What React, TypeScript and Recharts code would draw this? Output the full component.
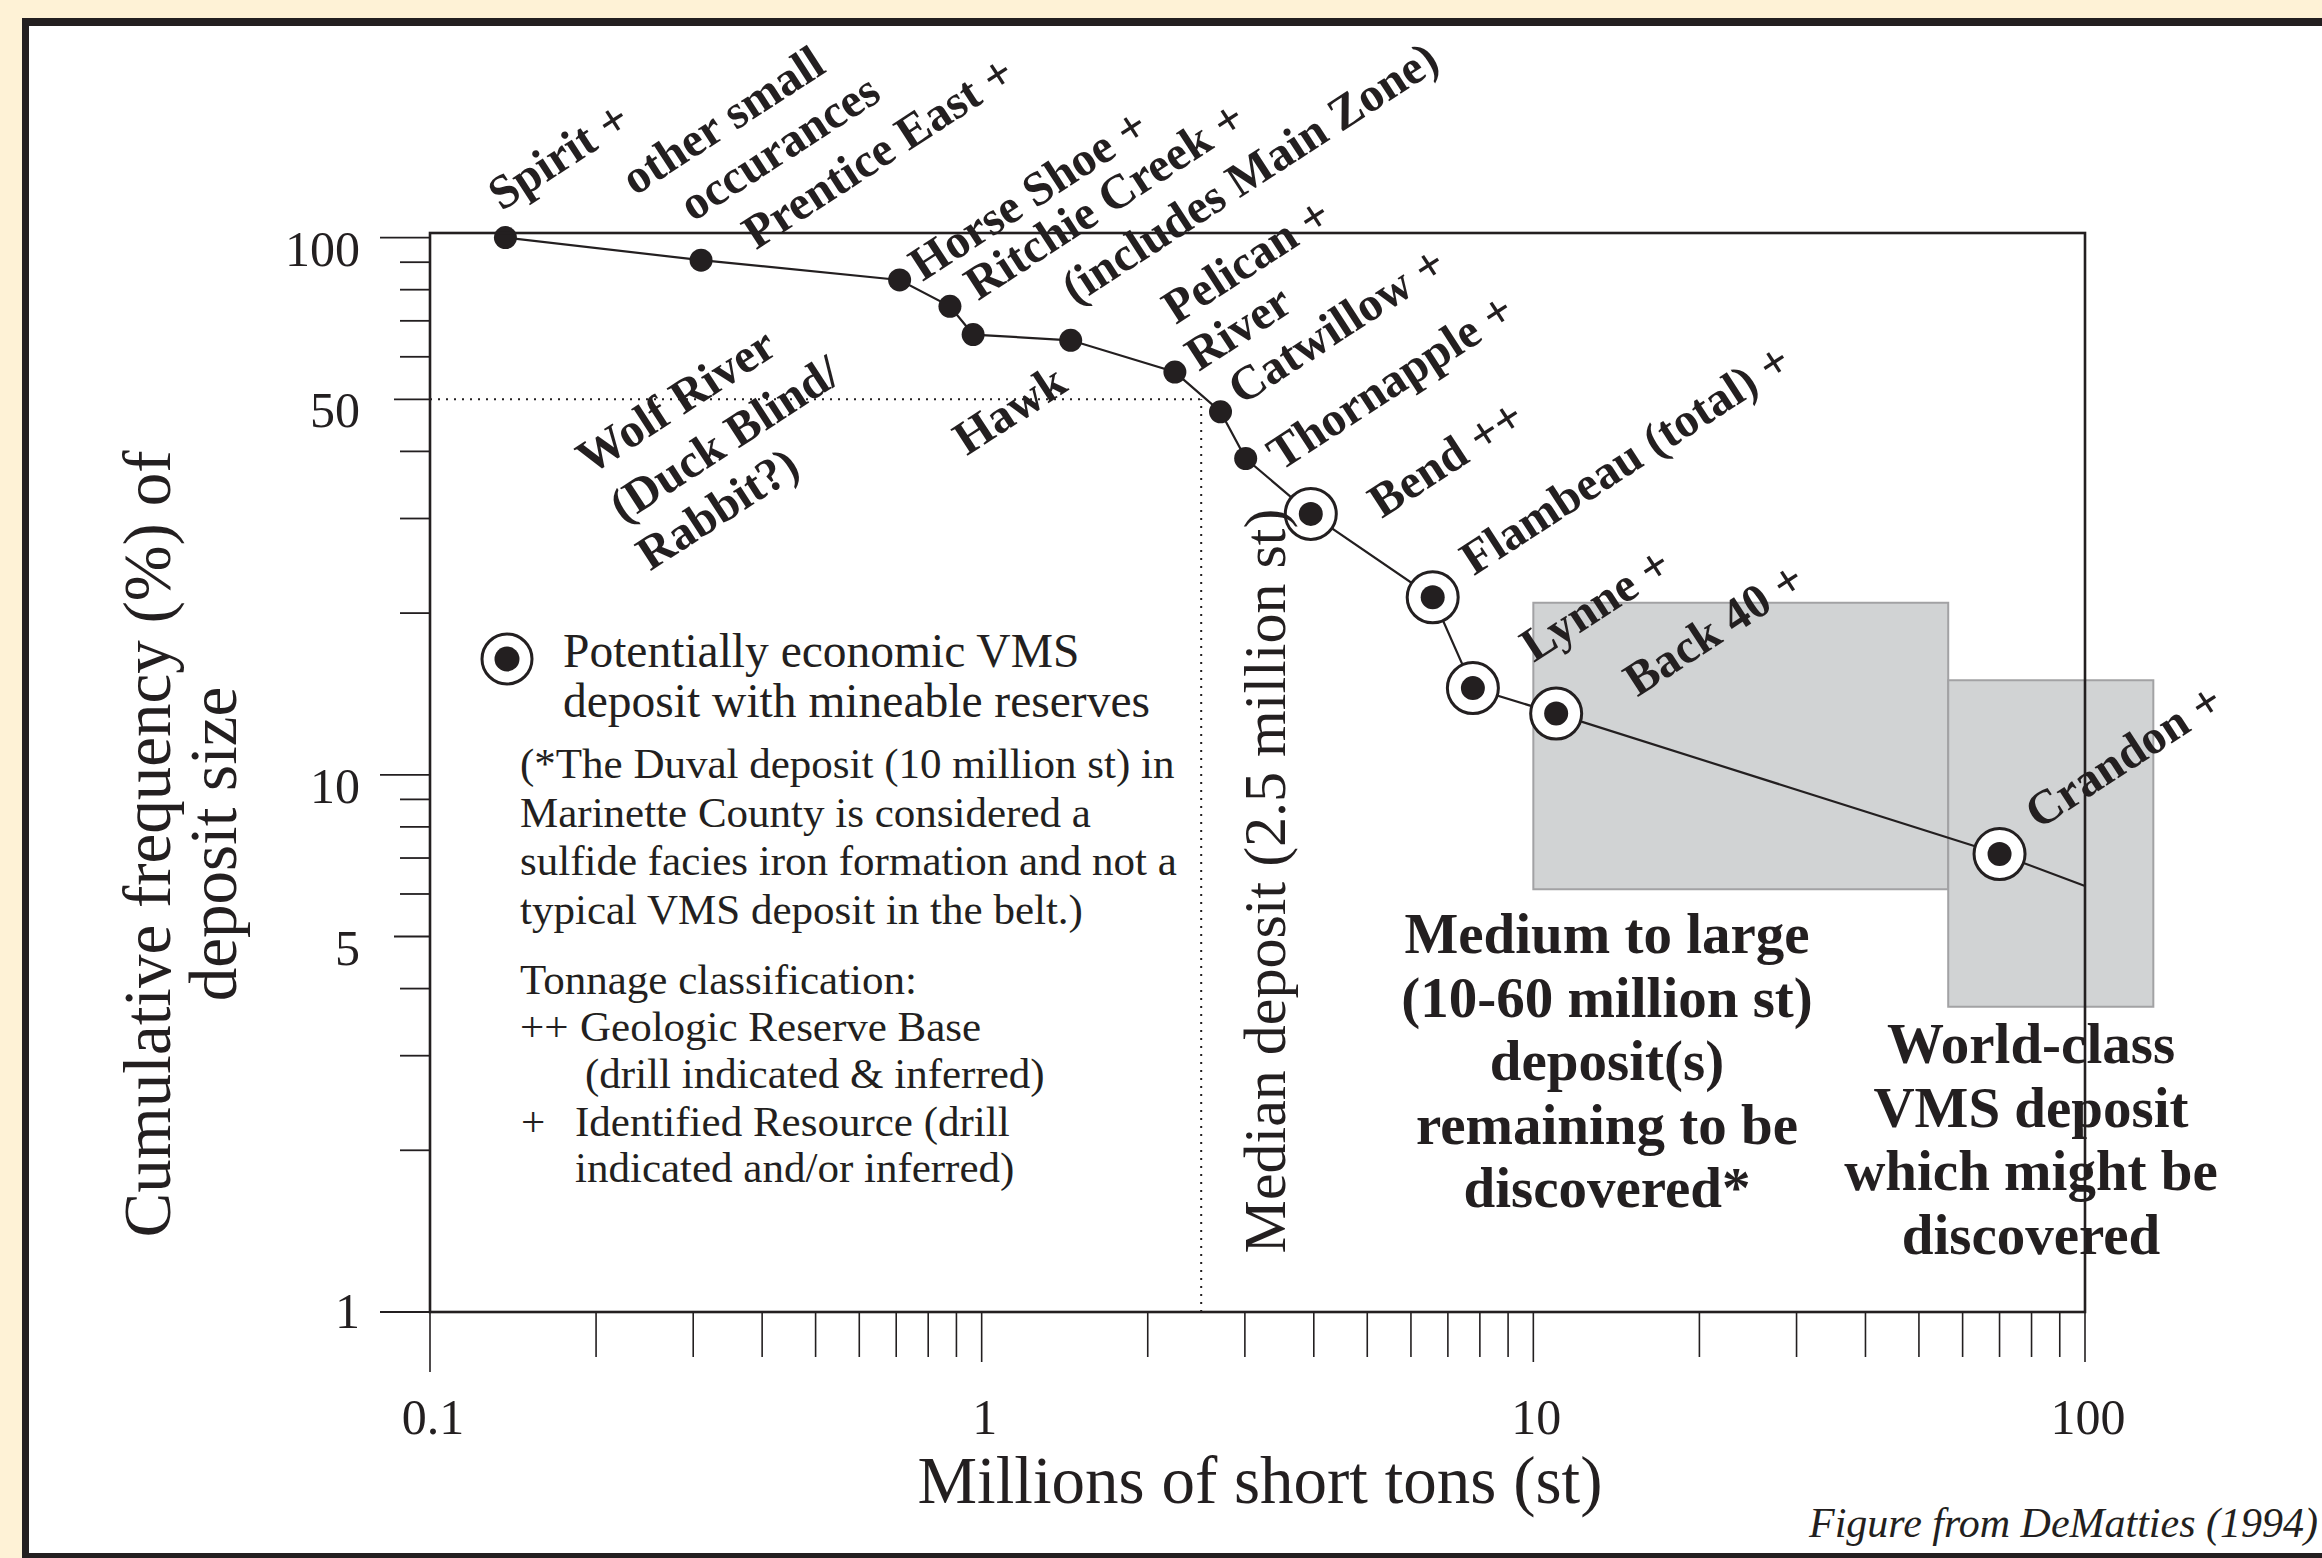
import React from 'react';
import { ComposedChart, Line, XAxis, YAxis, ReferenceArea, ReferenceLine, LabelList } from 'recharts';

// deposit tonnage (millions of short tons) vs cumulative frequency (%)
const tons = [0.137, 0.31, 0.71, 0.876, 0.965, 1.45, 2.24, 2.71, 3.01, 3.95, 6.57, 7.77, 11.0, 70.0, 100];
const freq = [100, 90.8, 83.4, 74.5, 66.0, 64.4, 56.2, 47.4, 38.8, 30.6, 21.4, 14.5, 13.0, 7.12, 6.21];
// 'ring' = potentially economic VMS deposit, 'none' = end of line only
const markers = ['dot', 'dot', 'dot', 'dot', 'dot', 'dot', 'dot', 'dot', 'dot', 'ring', 'ring', 'ring', 'ring', 'ring', 'none'];

const pointLabels: string[][] = [
  ['Spirit +'],
  ['other small', 'occurances', 'Prentice East +'],
  ['Horse Shoe +'],
  ['Ritchie Creek +', '(includes Main Zone)'],
  ['Wolf River', '(Duck Blind/', 'Rabbit?)'],
  ['Hawk'],
  ['Pelican +', 'River'],
  ['Catwillow +'],
  ['Thornapple +'],
  ['Bend ++'],
  ['Flambeau (total) +'],
  ['Lynne +'],
  ['Back 40 +'],
  ['Crandon +'],
  [],
];

// target ranges (shaded boxes)
const mediumBox = { x1: 10, x2: 56.5, y1: 6.12, y2: 20.9 };
const worldBox = { x1: 56.5, x2: 133, y1: 3.7, y2: 15.0 };
const medianTons = 2.5;
const medianFreq = 50;

const xTicks = [0.1, 0.2, 0.3, 0.4, 0.5, 0.6, 0.7, 0.8, 0.9, 1, 2, 3, 4, 5, 6, 7, 8, 9, 10, 20, 30, 40, 50, 60, 70, 80, 90, 100];
const xTickLabels = [0.1, 1, 10, 100];
const yTicks = [1, 2, 3, 4, 5, 6, 7, 8, 9, 10, 20, 30, 40, 50, 60, 70, 80, 90, 100];
const yTickLabels = [1, 5, 10, 50, 100];

// label offsets from their point, px (baseline start of each line)
const labelOffsets: number[][][] = [
  [[-10, -29]],
  [[-72, -67], [-14, -41], [49, -13]],
  [[17, -1]],
  [[22, -8], [119, -4]],
  [[-389, 138], [-356, 186], [-329, 234]],
  [[-110, 113]],
  [[-5, -50], [18, -3]],
  [[15, -9]],
  [[29, 10]],
  [[65, 2]],
  [[35, -24]],
  [[55, -28]],
  [[75, -19]],
  [[33, -27]],
  [],
];
const LABEL_SHIFT = [6, 3];

const W = 2322;
const H = 1558;
const PLOT = { left: 430, top: 233, right: 2085, bottom: 1312 };
const AXIS_W = 60;
const AXIS_H = 60;
const INK = '#231f20';
const SERIF = '"Liberation Serif", "Times New Roman", serif';

const data = tons.map((t, i) => ({ tons: t, freq: freq[i] }));

const XTick = (props: any) => {
  const v = props.payload.value;
  const x = props.x;
  const major = xTickLabels.includes(v);
  const len = v === 0.1 ? 60 : major ? 50 : 45;
  return (
    <g>
      <line x1={x} x2={x} y1={PLOT.bottom} y2={PLOT.bottom + len} stroke={INK} strokeWidth={1.6} />
      {major && (
        <text x={x + 3} y={1434} textAnchor="middle" fontFamily={SERIF} fontSize={50} fill={INK}>
          {String(v)}
        </text>
      )}
    </g>
  );
};

const YTick = (props: any) => {
  const v = props.payload.value;
  const y = props.y;
  const labelled = yTickLabels.includes(v);
  const len = v === 1 || v === 10 || v === 100 ? 50 : labelled ? 36 : 30;
  return (
    <g>
      <line x1={PLOT.left - len} x2={PLOT.left} y1={y} y2={y} stroke={INK} strokeWidth={1.8} />
      {labelled && (
        <text x={360} y={v === 1 ? y + 16 : y + 28} textAnchor="end" fontFamily={SERIF} fontSize={50} fill={INK}>
          {String(v)}
        </text>
      )}
    </g>
  );
};

const ringDot = (props: any) => {
  const { cx, cy, index } = props;
  if (markers[index] !== 'ring') return <g key={`r${index}`} />;
  return <circle key={`r${index}`} cx={cx} cy={cy} r={25.5} fill="#fff" stroke={INK} strokeWidth={3} />;
};

const solidDot = (props: any) => {
  const { cx, cy, index } = props;
  if (markers[index] === 'none') return <g key={`d${index}`} />;
  return <circle key={`d${index}`} cx={cx} cy={cy} r={markers[index] === 'ring' ? 12 : 11.5} fill={INK} stroke="none" />;
};

const renderLabel = (props: any) => {
  const { x, y, index } = props;
  const lines = pointLabels[index] || [];
  return (
    <g key={`l${index}`}>
      {lines.map((txt, i) => {
        const [dx, dy] = labelOffsets[index][i];
        const lx = x + dx + LABEL_SHIFT[0];
        const ly = y + dy + LABEL_SHIFT[1];
        return (
          <text
            key={i}
            x={lx}
            y={ly}
            transform={`rotate(-33 ${lx} ${ly})`}
            fontFamily={SERIF}
            fontWeight="bold"
            fontSize={48}
            fill={INK}
          >
            {txt}
          </text>
        );
      })}
    </g>
  );
};

const noteLines = [
  '(*The Duval deposit (10 million st) in',
  'Marinette County is considered a',
  'sulfide facies iron formation and not a',
  'typical VMS deposit in the belt.)',
];
const mediumText = ['Medium to large', '(10-60 million st)', 'deposit(s)', 'remaining to be', 'discovered*'];
const worldText = ['World-class', 'VMS deposit', 'which might be', 'discovered'];

export default function App() {
  return (
    <div style={{ position: 'relative', width: W, height: H, background: '#fef2d6', overflow: 'hidden' }}>
      <style>{'body{margin:0}'}</style>
      <div
        style={{
          position: 'absolute',
          left: 22,
          top: 18,
          width: 2400,
          height: H - 18,
          background: '#fff',
          borderStyle: 'solid',
          borderColor: INK,
          borderWidth: '8px 0 5px 7px',
          boxSizing: 'border-box',
        }}
      />
      <div style={{ position: 'absolute', left: 0, top: 0 }}>
        <ComposedChart
          width={W}
          height={H}
          data={data}
          margin={{
            top: PLOT.top,
            right: W - PLOT.right,
            bottom: H - PLOT.bottom - AXIS_H,
            left: PLOT.left - AXIS_W,
          }}
        >
          <XAxis
            dataKey="tons"
            type="number"
            scale="log"
            domain={[0.1, 100]}
            ticks={xTicks}
            interval={0}
            height={AXIS_H}
            tickSize={0}
            tickMargin={0}
            axisLine={false}
            tickLine={false}
            tick={<XTick />}
          />
          <YAxis
            type="number"
            scale="log"
            domain={[1, 102]}
            ticks={yTicks}
            interval={0}
            width={AXIS_W}
            tickSize={0}
            tickMargin={0}
            axisLine={false}
            tickLine={false}
            tick={<YTick />}
          />
          <ReferenceArea {...mediumBox} ifOverflow="visible" fill="#d1d3d4" fillOpacity={1} stroke="#a2a2a4" strokeWidth={2} />
          <ReferenceArea {...worldBox} ifOverflow="visible" fill="#d1d3d4" fillOpacity={1} stroke="#a2a2a4" strokeWidth={2} />
          <ReferenceLine
            segment={[{ x: 0.1, y: medianFreq }, { x: medianTons, y: medianFreq }]}
            ifOverflow="visible"
            stroke={INK}
            strokeWidth={2}
            strokeDasharray="2 6"
          />
          <ReferenceLine
            segment={[{ x: medianTons, y: 1 }, { x: medianTons, y: medianFreq }]}
            ifOverflow="visible"
            stroke={INK}
            strokeWidth={2}
            strokeDasharray="2 6"
          />
          <Line
            dataKey="freq"
            stroke="none"
            dot={ringDot}
            activeDot={false}
            isAnimationActive={false}
          />
          <Line
            dataKey="freq"
            stroke={INK}
            strokeWidth={2.2}
            dot={solidDot}
            activeDot={false}
            isAnimationActive={false}
          >
            <LabelList dataKey="freq" content={renderLabel} />
          </Line>
        </ComposedChart>
      </div>
      <svg
        width={W}
        height={H}
        style={{ position: 'absolute', left: 0, top: 0, pointerEvents: 'none' }}
        fontFamily={SERIF}
        fill={INK}
      >
        {/* axis titles */}
        <text transform="translate(170 844) rotate(-90)" textAnchor="middle" fontSize={67}>
          Cumulative frequency (%) of
        </text>
        <text transform="translate(236 844) rotate(-90)" textAnchor="middle" fontSize={67}>
          deposit size
        </text>
        <text x={1260} y={1503} textAnchor="middle" fontSize={67}>
          Millions of short tons (st)
        </text>
        <text transform="translate(1285 881) rotate(-90)" textAnchor="middle" fontSize={60}>
          Median deposit (2.5 million st)
        </text>

        {/* legend */}
        <circle cx={507} cy={659} r={25} fill="#fff" stroke={INK} strokeWidth={3} />
        <circle cx={507} cy={659} r={12.5} fill={INK} />
        <text x={563} y={667} fontSize={47.5}>Potentially economic VMS</text>
        <text x={563} y={717} fontSize={47.5}>deposit with mineable reserves</text>
        {noteLines.map((t, i) => (
          <text key={t} x={520} y={778 + i * 48.5} fontSize={43}>
            {t}
          </text>
        ))}
        <text x={520} y={994} fontSize={43}>Tonnage classification:</text>
        <text x={520} y={1041} fontSize={43}>++</text>
        <text x={580} y={1041} fontSize={43}>Geologic Reserve Base</text>
        <text x={585} y={1088} fontSize={43}>(drill indicated &amp; inferred)</text>
        <text x={521} y={1136} fontSize={43}>+</text>
        <text x={575} y={1136} fontSize={43}>Identified Resource (drill</text>
        <text x={575} y={1182} fontSize={43}>indicated and/or inferred)</text>

        {/* box annotations */}
        {mediumText.map((t, i) => (
          <text key={t} x={1607} y={953 + i * 63.5} textAnchor="middle" fontSize={57} fontWeight="bold">
            {t}
          </text>
        ))}
        {worldText.map((t, i) => (
          <text key={t} x={2031} y={1063 + i * 63.5} textAnchor="middle" fontSize={57} fontWeight="bold">
            {t}
          </text>
        ))}

        <text x={2318} y={1537} textAnchor="end" fontSize={42} fontStyle="italic">
          Figure from DeMatties (1994)
        </text>

        {/* plot frame */}
        <rect
          x={PLOT.left}
          y={PLOT.top}
          width={PLOT.right - PLOT.left}
          height={PLOT.bottom - PLOT.top}
          fill="none"
          stroke={INK}
          strokeWidth={2.6}
        />
      </svg>
    </div>
  );
}
